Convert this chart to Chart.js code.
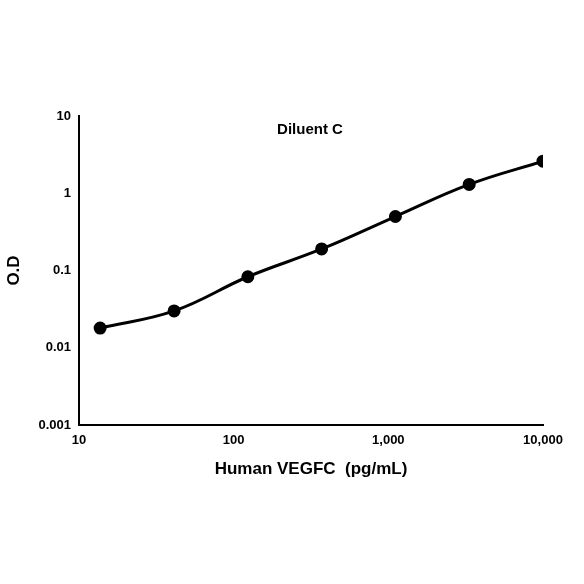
<!DOCTYPE html>
<html>
<head>
<meta charset="utf-8">
<script src="https://cdn.jsdelivr.net/npm/chart.js@4"></script>
<style>
  html, body { margin: 0; padding: 0; background: #fff; }
  #wrap { width: 584px; height: 584px; }
</style>
</head>
<body>
<div id="wrap"><canvas id="odChart"></canvas></div>
<script>
// VEGFC standard curve, Diluent C
const concentrations = [13.7, 41.2, 123.5, 370.4, 1111, 3333, 10000];
const odValues = [0.018, 0.030, 0.083, 0.19, 0.50, 1.30, 2.60];
const xTicks = [10, 100, 1000, 10000];
const yTicks = [0.001, 0.01, 0.1, 1, 10];

const boldFont = { family: 'Liberation Sans, Arial, sans-serif', size: 13, weight: 'bold' };

const titleInside = {
    id: 'titleInside',
    afterDraw(chart) {
        const c = chart.ctx;
        const a = chart.chartArea;
        c.save();
        c.font = 'bold 15px Liberation Sans, Arial, sans-serif';
        c.fillStyle = '#000';
        c.textAlign = 'center';
        c.fillText('Diluent C', 310, 134);
        c.restore();
    }
};

const ctx = document.getElementById('odChart').getContext('2d');
new Chart(ctx, {
    type: 'line',
    data: {
        datasets: [{
            data: concentrations.map((x, i) => ({ x: x, y: odValues[i] })),
            borderColor: '#000',
            backgroundColor: '#000',
            borderWidth: 3,
            pointRadius: 5,
            tension: 0.4,
            fill: false
        }]
    },
    options: {
        responsive: true,
        maintainAspectRatio: false,
        animation: false,
        layout: { padding: { left: 0, top: 116, right: 41, bottom: 100 } },
        plugins: {
            legend: { display: false },
            tooltip: { enabled: false }
        },
        scales: {
            x: {
                type: 'logarithmic',
                min: 10,
                max: 10000,
                afterBuildTicks: s => { s.ticks = xTicks.map(v => ({ value: v })); },
                afterFit: s => { s.height = 59; },
                grid: { display: false, drawTicks: true, tickLength: 5, color: '#000' },
                border: { color: '#000', width: 2 },
                ticks: {
                    color: '#000',
                    font: boldFont,
                    maxRotation: 0,
                    callback: v => v.toLocaleString('en-US')
                },
                title: {
                    display: true,
                    text: 'Human VEGFC  (pg/mL)',
                    color: '#000',
                    font: { family: 'Liberation Sans, Arial, sans-serif', size: 17, weight: 'bold' },
                    padding: { top: 2 }
                }
            },
            y: {
                type: 'logarithmic',
                min: 0.001,
                max: 10,
                afterBuildTicks: s => { s.ticks = yTicks.map(v => ({ value: v })); },
                afterFit: s => { s.width = 79; },
                grid: { display: false, drawTicks: true, tickLength: 5, color: '#000' },
                border: { color: '#000', width: 2 },
                ticks: {
                    color: '#000',
                    font: boldFont,
                    callback: v => String(v)
                },
                title: {
                    display: true,
                    text: 'O.D',
                    color: '#000',
                    font: { family: 'Liberation Sans, Arial, sans-serif', size: 17, weight: 'bold' }
                }
            }
        }
    },
    plugins: [titleInside]
});
</script>
</body>
</html>
